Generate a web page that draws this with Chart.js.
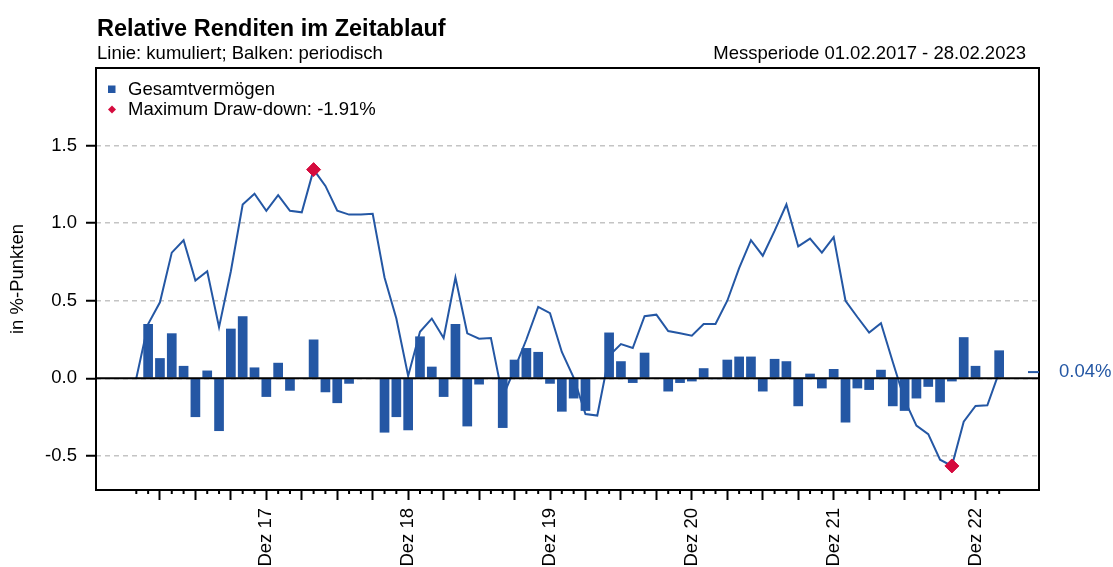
<!DOCTYPE html>
<html>
<head>
<meta charset="utf-8">
<script src="https://cdn.jsdelivr.net/npm/chart.js@4.4.0/dist/chart.umd.min.js"></script>
<style>
  html, body { margin: 0; padding: 0; background: #fff; }
</style>
</head>
<body>
<canvas id="returnsChart" width="1113" height="567"></canvas>
<script>
// Periodische relative Renditen Feb 17 - Feb 23 (Monatsindex 1..73)
const periodic = [
  0.35, 0.13, 0.29, 0.08, -0.25, 0.05, -0.34, 0.32, 0.40, 0.07, -0.12,
  0.10, -0.08, -0.005, 0.25, -0.09, -0.16, -0.035, 0, 0.005, -0.35, -0.25, -0.335,
  0.27, 0.075, -0.12, 0.35, -0.31, -0.04, 0, -0.32, 0.12, 0.195, 0.17, -0.035,
  -0.215, -0.13, -0.21, 0, 0.295, 0.11, -0.03, 0.165, 0.004, -0.085, -0.03, -0.02,
  0.065, -0.006, 0.12, 0.14, 0.14, -0.085, 0.125, 0.11, -0.18, 0.03, -0.065, 0.06,
  -0.285, -0.065, -0.075, 0.055, -0.18, -0.21, -0.13, -0.055, -0.155, -0.02, 0.265, 0.08,
  0.005, 0.18
];

// Kumulierte relative Rendite, Start Ende Jan 17 (Monatsindex 0..73)
const cumulative = [
  0, 0.35, 0.49, 0.81, 0.89, 0.63, 0.69, 0.33, 0.69, 1.12, 1.19, 1.08,
  1.18, 1.08, 1.07, 1.345, 1.24, 1.08, 1.055, 1.055, 1.06, 0.65, 0.385, 0.015,
  0.30, 0.385, 0.26, 0.65, 0.29, 0.255, 0.26, -0.12, 0.06, 0.25, 0.46, 0.42,
  0.17, 0.005, -0.23, -0.24, 0.145, 0.22, 0.195, 0.40, 0.41, 0.305, 0.29, 0.275,
  0.35, 0.35, 0.50, 0.71, 0.89, 0.79, 0.95, 1.12, 0.85, 0.90, 0.81, 0.91,
  0.50, 0.395, 0.295, 0.355, 0.105, -0.14, -0.305, -0.36, -0.525, -0.565, -0.28, -0.178,
  -0.174, 0.04
];

// Maximum Draw-down: Hochpunkt und Tiefpunkt
const ddIndex = [15, 69];
const ddValue = [1.345, -0.565];

// Achsen
const yTicks = [-0.5, 0, 0.5, 1.0, 1.5];
const quarterTicks = [2, 5, 8, 11, 14, 17, 20, 23, 26, 29, 32, 35, 38, 41, 44, 47, 50, 53, 56, 59, 62, 65, 68, 71];
const labelTicks = [11, 23, 35, 47, 59, 71];
const tickLabels = ['Dez 17', 'Dez 18', 'Dez 19', 'Dez 20', 'Dez 21', 'Dez 22'];

const BLUE = '#2457a4';
const RED = '#d50b3e';
const FONT = "'Liberation Sans', Arial, sans-serif";

Chart.defaults.font.family = FONT;
Chart.defaults.font.size = 18.5;
Chart.defaults.color = '#000';

// Rahmen, Nulllinie, Monatsticks, Kopfzeilen und Legende
const decor = {
  id: 'decor',
  afterDatasetsDraw(chart) {
    const { ctx, chartArea: a, scales: { y } } = chart;
    ctx.save();
    ctx.strokeStyle = '#000';
    ctx.lineWidth = 2;
    const y0 = y.getPixelForValue(0);
    ctx.beginPath();
    ctx.moveTo(a.left, y0);
    ctx.lineTo(a.right, y0);
    ctx.stroke();
    ctx.restore();
  },
  afterDraw(chart) {
    const { ctx, chartArea: a, scales: { x, y } } = chart;
    ctx.save();
    // frame
    ctx.strokeStyle = '#000';
    ctx.lineWidth = 2;
    ctx.strokeRect(a.left, a.top, a.right - a.left, a.bottom - a.top);
    // monthly minor ticks
    for (let i = 0; i < cumulative.length; i++) {
      if (quarterTicks.includes(i)) continue;
      const px = x.getPixelForValue(i);
      ctx.beginPath();
      ctx.moveTo(px, a.bottom);
      ctx.lineTo(px, a.bottom + 4);
      ctx.stroke();
    }
    // end value marker
    const last = cumulative[cumulative.length - 1];
    const yEnd = y.getPixelForValue(last);
    ctx.strokeStyle = BLUE;
    ctx.beginPath();
    ctx.moveTo(a.right - 11, yEnd);
    ctx.lineTo(a.right, yEnd);
    ctx.stroke();
    ctx.fillStyle = BLUE;
    ctx.font = '18.5px ' + FONT;
    ctx.textBaseline = 'middle';
    ctx.fillText(last.toFixed(2) + '%', a.right + 20, yEnd);

    // headers
    ctx.fillStyle = '#000';
    ctx.textBaseline = 'alphabetic';
    ctx.font = 'bold 23.5px ' + FONT;
    ctx.fillText('Relative Renditen im Zeitablauf', a.left + 1, 36);
    ctx.font = '18.5px ' + FONT;
    ctx.fillText('Linie: kumuliert; Balken: periodisch', a.left + 1, 59);
    ctx.textAlign = 'right';
    ctx.fillText('Messperiode 01.02.2017 - 28.02.2023', a.right - 13, 59);

    // legend
    ctx.textAlign = 'left';
    ctx.fillStyle = BLUE;
    ctx.fillRect(a.left + 12, a.top + 17.5, 7.5, 7.5);
    ctx.fillStyle = RED;
    const dx = a.left + 16, dy = a.top + 41.5;
    ctx.beginPath();
    ctx.moveTo(dx, dy - 4);
    ctx.lineTo(dx + 4, dy);
    ctx.lineTo(dx, dy + 4);
    ctx.lineTo(dx - 4, dy);
    ctx.closePath();
    ctx.fill();
    ctx.fillStyle = '#000';
    ctx.fillText('Gesamtvermögen', a.left + 32, a.top + 27);
    ctx.fillText('Maximum Draw-down: -1.91%', a.left + 32, a.top + 47);
    ctx.restore();
  }
};

new Chart(document.getElementById('returnsChart'), {
  type: 'bar',
  data: {
    datasets: [
      {
        type: 'line',
        label: 'Draw-down',
        data: ddIndex.map((v, k) => ({ x: v, y: ddValue[k] })),
        showLine: false,
        pointStyle: 'rectRot',
        pointRadius: 7,
        backgroundColor: RED,
        borderColor: RED,
        borderWidth: 1,
        order: 0
      },
      {
        type: 'bar',
        label: 'Gesamtvermögen',
        data: periodic.map((v, i) => ({ x: i + 1, y: v })),
        backgroundColor: BLUE,
        borderWidth: 0,
        barPercentage: 1,
        categoryPercentage: 0.82,
        order: 1
      },
      {
        type: 'line',
        label: 'kumuliert',
        data: cumulative.map((v, i) => ({ x: i, y: v })),
        borderColor: BLUE,
        borderWidth: 2,
        pointRadius: 0,
        tension: 0,
        fill: false,
        order: 2
      }
    ]
  },
  options: {
    responsive: false,
    animation: false,
    layout: { padding: { top: 68, right: 74, bottom: 0, left: 0 } },
    plugins: {
      legend: { display: false },
      tooltip: { enabled: false }
    },
    scales: {
      x: {
        type: 'linear',
        min: -3.41,
        max: 76.37,
        offset: false,
        grid: { offset: false, drawOnChartArea: false, tickLength: 10, tickWidth: 2, tickColor: '#000' },
        border: { display: false },
        afterBuildTicks: s => { s.ticks = quarterTicks.map(v => ({ value: v })); },
        afterFit: s => { s.height = 77; },
        ticks: {
          autoSkip: false,
          minRotation: 90,
          maxRotation: 90,
          padding: 8,
          callback: v => {
            const k = labelTicks.indexOf(v);
            return k >= 0 ? tickLabels[k] : '';
          }
        }
      },
      y: {
        min: -0.72,
        max: 2.0,
        grid: { color: '#c4c4c4', lineWidth: 1.5, tickLength: 10, tickWidth: 2, tickColor: '#000' },
        border: { display: false, dash: [5, 4] },
        afterBuildTicks: s => { s.ticks = yTicks.map(v => ({ value: v })); },
        afterFit: s => { s.width = 96; },
        ticks: { padding: 9, callback: v => v.toFixed(1) },
        title: { display: true, text: 'in %-Punkten', padding: { top: 7, bottom: 0 } }
      }
    }
  },
  plugins: [decor]
});
</script>
</body>
</html>
